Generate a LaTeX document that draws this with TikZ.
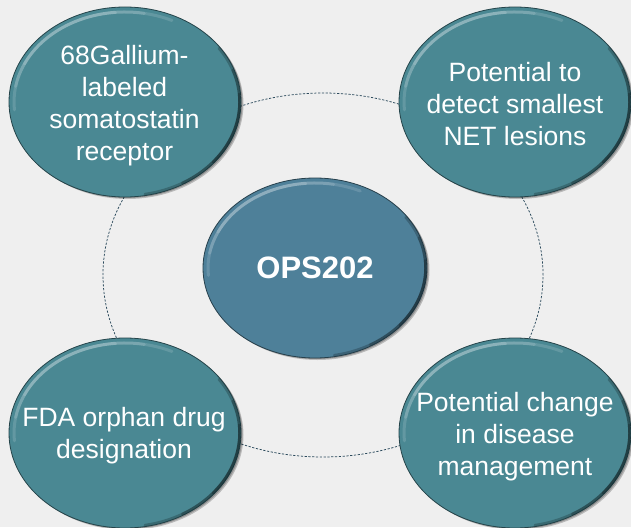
\documentclass[tikz,border=0pt]{standalone}
\usepackage{fontspec}
\setmainfont{Liberation Sans}
\usetikzlibrary{shapes.geometric}
\definecolor{pagebg}{HTML}{EFEFEF}
\definecolor{tealfill}{HTML}{4A8893}
\definecolor{corefill}{HTML}{4E8099}
\definecolor{ringline}{HTML}{2B4A5C}
\tikzset{
  bubble/.style={ellipse, inner sep=0pt, outer sep=0pt, line width=0.8pt},
  sidebubble/.style={bubble, fill=tealfill, draw=tealfill!50!black,
    minimum width=232pt, minimum height=190pt},
  corebubble/.style={bubble, fill=corefill, draw=corefill!50!black,
    minimum width=224pt, minimum height=180pt, text=white,
    font=\fontsize{31}{36}\selectfont\bfseries},
  caption/.style={text=white, align=center, inner sep=0pt,
    font=\fontsize{26.5}{32}\selectfont},
  ring/.style={draw=ringline, line width=0.75pt, dash pattern=on 2.2pt off 1.6pt},
  dropshadow/.style={fill=black, opacity=0.22},
  shine/.style={draw=white, opacity=0.14, line width=3pt, line cap=round},
  shade/.style={draw=black, opacity=0.22, line width=2.5pt, line cap=round}
}
% bevel on a bubble: #1 node, #2/#3 its half axes in pt
\newcommand\bevel[3]{%
  \foreach \s/\e in {65/185, 80/170, 95/155}
    \draw[shine] (#1.center) ++(\s:{#2pt-5pt} and {#3pt-5pt})
      arc[start angle=\s, end angle=\e, x radius={#2pt-5pt}, y radius={#3pt-5pt}];
  \foreach \s/\e in {-80/35, -60/20, -40/5}
    \draw[shade] (#1.center) ++(\s:{#2pt-1.5pt} and {#3pt-1.5pt})
      arc[start angle=\s, end angle=\e, x radius={#2pt-1.5pt}, y radius={#3pt-1.5pt}];
}
\begin{document}
\begin{tikzpicture}[x=1pt, y=-1pt]
  % page
  \fill[pagebg] (0,0) rectangle (631,527);
  \useasboundingbox (0,0) rectangle (631,527);

  % dashed orbit behind the bubbles
  \coordinate (hub) at (323,275);
  \draw[ring] (hub) ellipse [x radius=220pt, y radius=182pt];

  % soft drop shadows
  \foreach \cx/\cy in {125/102, 515/102, 125/433, 515/433} {
    \fill[dropshadow] (\cx+2.5,\cy+2) ellipse [x radius=116pt, y radius=95pt];
    \fill[dropshadow] (\cx+1.5,\cy+1) ellipse [x radius=116pt, y radius=95pt];
  }
  \fill[dropshadow] (317.5,270) ellipse [x radius=112pt, y radius=90pt];
  \fill[dropshadow] (316.5,269) ellipse [x radius=112pt, y radius=90pt];

  % bubbles
  \node[sidebubble] (gal) at (125,102) {};
  \node[sidebubble] (net) at (515,102) {};
  \node[sidebubble] (fda) at (125,433) {};
  \node[sidebubble] (mgt) at (515,433) {};
  \node[corebubble] (ops) at (315,268) {OPS202};

  \bevel{gal}{116}{95}
  \bevel{net}{116}{95}
  \bevel{fda}{116}{95}
  \bevel{mgt}{116}{95}
  \bevel{ops}{112}{90}

  % captions
  \node[caption] (galtext) at (124.5,106) {68Gallium-\\labeled\\somatostatin\\receptor};
  \node[caption] (nettext) at (515,104) {Potential to\\detect smallest\\NET lesions};
  \node[caption] (fdatext) at (124,435.5) {FDA orphan drug\\designation};
  \node[caption] (mgttext) at (515,436.5) {Potential change\\in disease\\management};
\end{tikzpicture}
\end{document}
